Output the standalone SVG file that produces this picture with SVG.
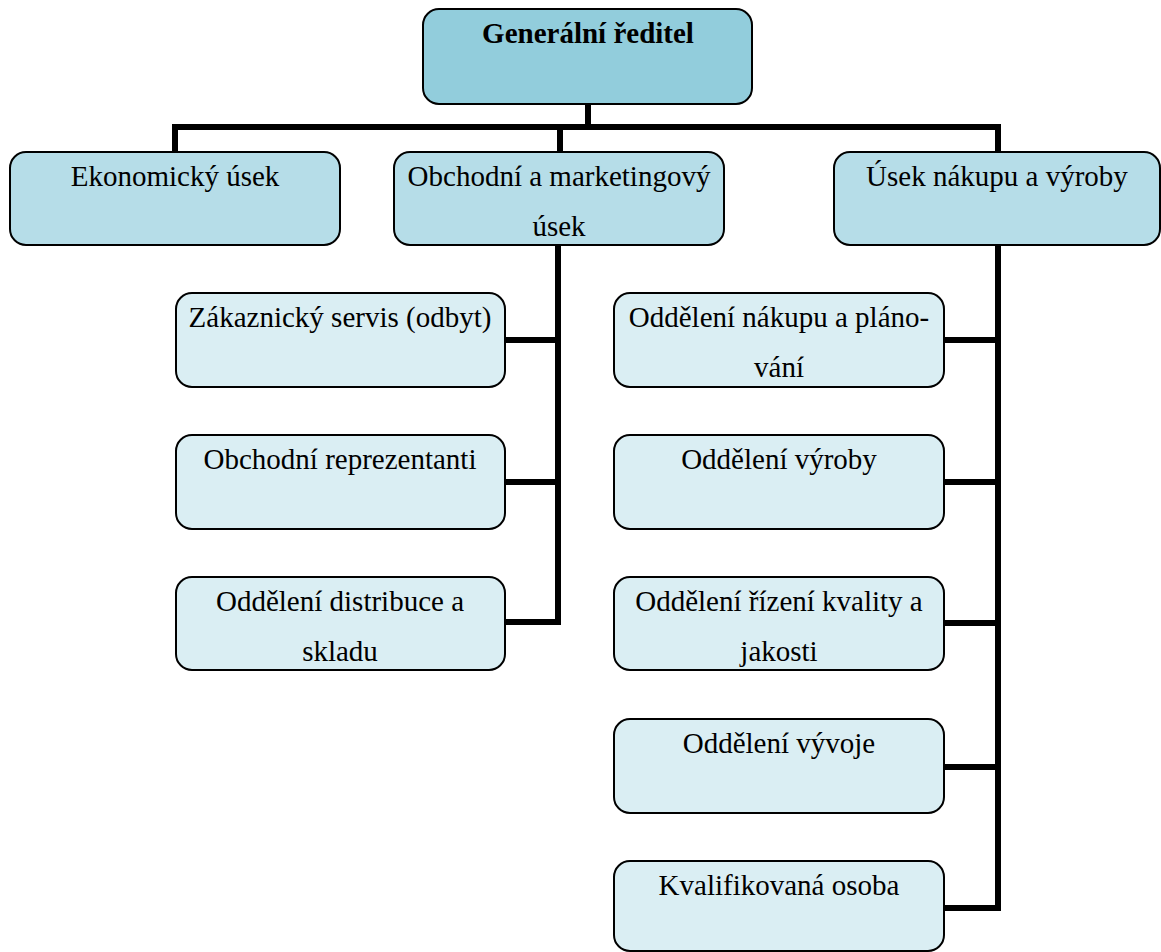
<svg xmlns="http://www.w3.org/2000/svg" width="1161" height="952" viewBox="0 0 1161 952">
<style>
.box{stroke:#000;stroke-width:2}
.l1{fill:#92CDDC}
.l2{fill:#B6DDE8}
.l3{fill:#DAEEF3}
text{font-family:'Liberation Serif','Times New Roman',serif;font-size:29px;fill:#000;text-anchor:middle}
.b{font-weight:bold}
.c{fill:none;stroke:#000;stroke-width:6;stroke-linejoin:miter}
</style>
<rect width="1161" height="952" fill="#fff"/>
<g id="connectors">
<path class="c" d="M588 104V127M175 152V127H998V152M560 127V152"/>
<path class="c" d="M558 245V622H505M505 340H558M505 482H558"/>
<path class="c" d="M998 245V908H944M944 340H998M944 482H998M944 623H998M944 767H998"/>
</g>
<g font-family="Liberation Serif, serif">
<g id="n-gr"><rect class="box l1" x="423" y="9" width="329" height="95" rx="16"/><text class="b" x="588" y="43">Generální ředitel</text></g>
<g id="n-eko"><rect class="box l2" x="10" y="152" width="330" height="93" rx="16"/><text x="175" y="186">Ekonomický úsek</text></g>
<g id="n-obch"><rect class="box l2" x="394" y="152" width="330" height="93" rx="16"/><text x="559" y="186">Obchodní a marketingový</text><text x="559" y="236">úsek</text></g>
<g id="n-nak"><rect class="box l2" x="834" y="152" width="326" height="93" rx="16"/><text x="997" y="186">Úsek nákupu a výroby</text></g>
<g id="n-zak"><rect class="box l3" x="176" y="293" width="329" height="94" rx="16"/><text x="340" y="327">Zákaznický servis (odbyt)</text></g>
<g id="n-rep"><rect class="box l3" x="176" y="435" width="329" height="94" rx="16"/><text x="340" y="469">Obchodní reprezentanti</text></g>
<g id="n-dis"><rect class="box l3" x="176" y="577" width="329" height="93" rx="16"/><text x="340" y="611">Oddělení distribuce a</text><text x="340" y="661">skladu</text></g>
<g id="n-pla"><rect class="box l3" x="614" y="293" width="330" height="94" rx="16"/><text x="779" y="327">Oddělení nákupu a pláno-</text><text x="779" y="377">vání</text></g>
<g id="n-vyr"><rect class="box l3" x="614" y="435" width="330" height="94" rx="16"/><text x="779" y="469">Oddělení výroby</text></g>
<g id="n-kva"><rect class="box l3" x="614" y="577" width="330" height="93" rx="16"/><text x="779" y="611">Oddělení řízení kvality a</text><text x="779" y="661">jakosti</text></g>
<g id="n-vyv"><rect class="box l3" x="614" y="719" width="330" height="94" rx="16"/><text x="779" y="753">Oddělení vývoje</text></g>
<g id="n-osb"><rect class="box l3" x="614" y="861" width="330" height="90" rx="16"/><text x="779" y="895">Kvalifikovaná osoba</text></g>
</g>
</svg>
